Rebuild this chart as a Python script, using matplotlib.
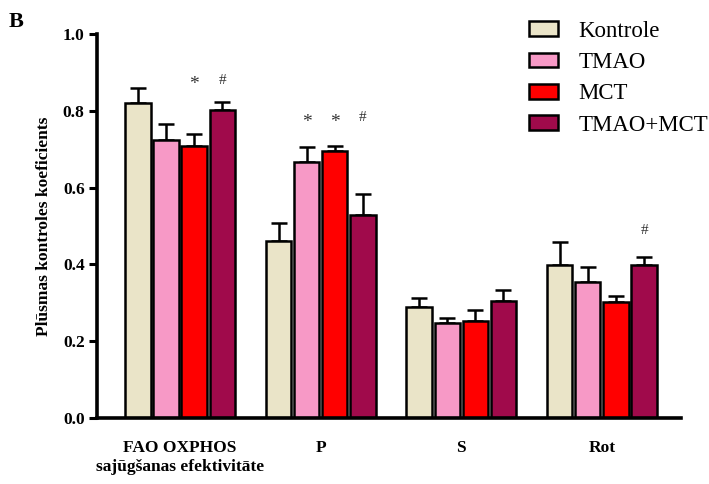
import numpy as np
import matplotlib.pyplot as plt
from matplotlib.patches import Patch

plt.rcParams['font.family'] = ['Liberation Serif', 'DejaVu Serif']

groups = ["FAO OXPHOS\nsajūgšanas efektivitāte", "P", "S", "Rot"]
series = ["Kontrole", "TMAO", "MCT", "TMAO+MCT"]
colors = ["#EAE4C8", "#F799C6", "#FF0000", "#A00A4B"]

kontrole = [0.820, 0.461, 0.289, 0.398]
tmao = [0.724, 0.667, 0.247, 0.355]
mct = [0.708, 0.695, 0.253, 0.302]
tmao_mct = [0.802, 0.529, 0.305, 0.398]

kontrole_sem = [0.039, 0.047, 0.023, 0.060]
tmao_sem = [0.042, 0.039, 0.013, 0.039]
mct_sem = [0.032, 0.013, 0.028, 0.016]
tmao_mct_sem = [0.021, 0.054, 0.028, 0.021]

# significance marks: (group index, series index, symbol, height)
marks = [(0, 2, "*", 0.845), (0, 3, "#", 0.862),
         (1, 1, "*", 0.748), (1, 2, "*", 0.748), (1, 3, "#", 0.766),
         (3, 3, "#", 0.472)]

means = [kontrole, tmao, mct, tmao_mct]
sems = [kontrole_sem, tmao_sem, mct_sem, tmao_mct_sem]

fig = plt.figure(figsize=(7.09, 4.84), dpi=100)
ax = fig.add_axes([0.137, 0.136, 0.823, 0.794])

centers = np.arange(len(groups)) * 5.0
offsets = [-1.5, -0.5, 0.5, 1.5]

for i, (name, col) in enumerate(zip(series, colors)):
    x = centers + offsets[i]
    ax.bar(x, means[i], width=0.9, color=col, edgecolor="black",
           linewidth=1.8, zorder=2, label=name)
    ax.errorbar(x, means[i], yerr=[np.zeros(len(x)), sems[i]], fmt="none",
                ecolor="black", elinewidth=1.8, capsize=6, capthick=1.8,
                zorder=1)

for g, s, sym, h in marks:
    ax.text(centers[g] + offsets[s], h, sym, ha="center", va="bottom",
            fontsize=14 if sym == "*" else 11, color="#333333")

ax.set_xlim(-2.95, 17.8)
ax.set_ylim(0, 1.0)
ax.set_yticks(np.arange(0, 1.01, 0.2))
ax.set_yticklabels([f"{v:.1f}" for v in np.arange(0, 1.01, 0.2)],
                   fontsize=12.5, fontweight="bold")
ax.set_xticks(centers)
ax.set_xticklabels(groups, fontsize=12.5, fontweight="bold")
ax.tick_params(axis="x", length=0, pad=16)
ax.tick_params(axis="y", length=6, width=2.2, pad=3)
for side in ["top", "right"]:
    ax.spines[side].set_visible(False)
for side in ["left", "bottom"]:
    ax.spines[side].set_linewidth(2.6)

ax.set_ylabel("Plūsmas kontroles koeficients", fontsize=12.5,
              fontweight="bold", labelpad=8)

handles = [Patch(facecolor=c, edgecolor="black", linewidth=1.8, label=n)
           for n, c in zip(series, colors)]
ax.legend(handles=handles, loc="upper right", bbox_to_anchor=(1.083, 1.088),
          frameon=False, fontsize=16.5, handlelength=1.25, handleheight=0.6,
          labelspacing=0.45, handletextpad=0.9)

fig.text(0.012, 0.945, "B", fontsize=16, fontweight="bold")

fig.savefig("out.png", dpi=100)
